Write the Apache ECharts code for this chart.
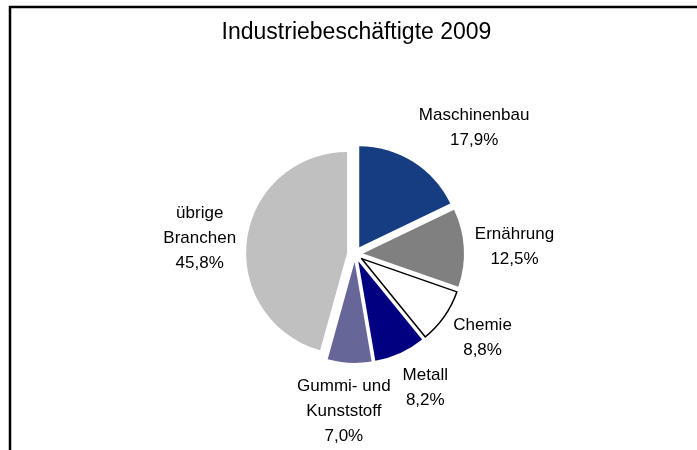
<!DOCTYPE html>
<html>
<head>
<meta charset="utf-8">
<script src="https://cdn.jsdelivr.net/npm/echarts@6/dist/echarts.min.js"></script>
<style>
  html, body { margin: 0; padding: 0; background: #fff; }
  #chart { width: 697px; height: 450px; }
</style>
</head>
<body>
<div id="chart"></div>
<script>
// Industry employment shares 2009, in percent
const categories = ['Maschinenbau', 'Ernährung', 'Chemie', 'Metall', 'Gummi- und\nKunststoff', 'übrige\nBranchen'];
const shares = [17.9, 12.5, 8.8, 8.2, 7.0, 45.8];
const sliceColors = ['#163c82', '#808080', '#ffffff', '#000080', '#666699', '#c0c0c0'];
const chartTitle = 'Industriebeschäftigte 2009';

// pie geometry (pixels)
const CX = 355, CY = 254, R = 101, EXPLODE = 8, LABEL_DIST = 120;
const LABEL_FONT_SIZE = 17, LABEL_LINE_HEIGHT = 25;
const FONT = 'Liberation Sans';

const total = shares.reduce((a, b) => a + b, 0);
// mid angle of each slice, clockwise from 12 o'clock, in radians
const midAngles = [];
let acc = 0;
shares.forEach(v => { midAngles.push((acc + v / 2) / total * 2 * Math.PI); acc += v; });

const fmtPct = v => v.toFixed(1).replace('.', ',') + '%';
const labelText = i => categories[i] + '\n' + fmtPct(shares[i]);

// text measuring for label boxes
const measureCtx = document.createElement('canvas').getContext('2d');
measureCtx.font = LABEL_FONT_SIZE + 'px "' + FONT + '"';
function boxSize(text) {
  const lines = text.split('\n');
  return {
    w: Math.max(...lines.map(l => measureCtx.measureText(l).width)),
    h: lines.length * LABEL_LINE_HEIGHT
  };
}

const clamp = (v, lo, hi) => Math.max(lo, Math.min(hi, v));
// how far a label box is pushed off its anchor point, per axis (in half box sizes)
const pushX = d => clamp(2.2 * d, -1, 1);
const pushY = d => Math.sign(d) * clamp((Math.abs(d) - 0.15) / 0.7, 0, 1);

// outside labels: the box sits just beyond an anchor on the slice bisector
const labelGraphics = categories.map((_, i) => {
  const a = midAngles[i];
  const dx = Math.sin(a), dy = -Math.cos(a);
  const px = CX + LABEL_DIST * dx, py = CY + LABEL_DIST * dy;
  const text = labelText(i);
  const s = boxSize(text);
  return {
    type: 'text',
    silent: true,
    z: 50,
    style: {
      text: text,
      x: px + pushX(dx) * s.w / 2,
      y: py + pushY(dy) * s.h / 2,
      align: 'center',
      verticalAlign: 'middle',
      fontFamily: FONT,
      fontSize: LABEL_FONT_SIZE,
      lineHeight: LABEL_LINE_HEIGHT,
      fill: '#000'
    }
  };
});

const chart = echarts.init(document.getElementById('chart'), null, { renderer: 'canvas' });

const option = {
  animation: false,
  backgroundColor: '#ffffff',
  graphic: [
    {
      type: 'rect',
      silent: true,
      z: 100,
      shape: { x: 10, y: 7, width: 800, height: 600 },
      style: { fill: 'none', stroke: '#000', lineWidth: 2.5 }
    },
    {
      type: 'text',
      silent: true,
      style: {
        text: chartTitle,
        x: 356.5,
        y: 33,
        align: 'center',
        verticalAlign: 'middle',
        fontFamily: FONT,
        fontSize: 23,
        fill: '#000'
      }
    }
  ].concat(labelGraphics),
  series: [{
    type: 'pie',
    center: [CX, CY],
    radius: R,
    startAngle: 90,
    clockwise: true,
    selectedMode: 'multiple',
    selectedOffset: EXPLODE,
    emphasis: { disabled: true },
    label: { show: false },
    labelLine: { show: false },
    data: categories.map((name, i) => ({
      name: name,
      value: shares[i],
      selected: true,
      itemStyle: {
        color: sliceColors[i],
        borderColor: i === 2 ? '#000' : sliceColors[i],
        borderWidth: i === 2 ? 1.5 : 0
      }
    }))
  }]
};

chart.setOption(option);
</script>
</body>
</html>
